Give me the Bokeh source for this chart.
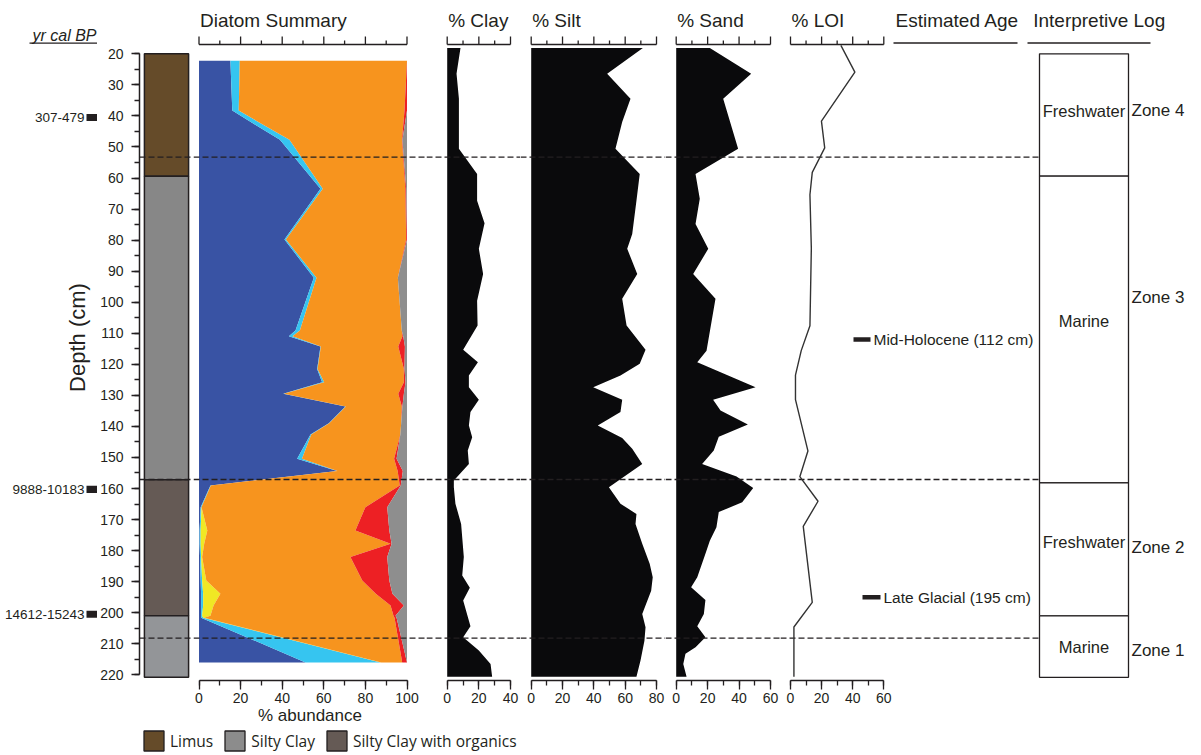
import math
from bokeh.plotting import figure
from bokeh.models import (Range1d, LinearAxis, SingleIntervalTicker, Span, Legend,
                          LegendItem, ColumnDataSource)
from bokeh.layouts import row, column
from bokeh.core.properties import value
from bokeh.embed import file_html
from bokeh.resources import INLINE

# ---------------------------------------------------------------- data
LITH_NAMES = ["Limus", "Silty Clay", "Silty Clay with organics", "Silty Clay"]
LITH_TOP = [20.0, 59.4, 157.2, 201.0]
LITH_BOTTOM = [59.4, 157.2, 201.0, 220.8]
LITH_COLORS = ["#654b29", "#878787", "#655a55", "#939598"]

LEGEND_NAMES = ["Limus", "Silty Clay", "Silty Clay with organics"]
LEGEND_COLORS = ["#654b29", "#8c8c8c", "#655a55"]

DATE_LABELS = ["307-479", "9888-10183", "14612-15243"]
DATE_DEPTH = [40.5, 160.3, 200.5]

ZONE_BOUNDARIES = [53.3, 157.1, 208.2]

DIA_DEPTH = [22.2, 38.3, 47.7, 63.5, 79.8, 92.1, 109.1, 111.0, 114.3, 121.5,
             125.8, 129.5, 133.6, 139.0, 142.6, 150.4, 154.4, 159.0, 166.0, 173.5,
             177.8, 182.1, 189.6, 193.9, 197.7, 201.0, 201.6, 216.0]
DIA_MARINE = [15.1, 16.0, 38.9, 58.4, 41.1, 55.2, 46.4, 43.2, 58.4, 56.8,
              59.2, 40.5, 70.4, 62.4, 53.6, 47.2, 66.4, 5.5, 0.8, 0.3,
              0.3, 0.5, 0.8, 1.0, 1.0, 1.0, 1.0, 51.2]
DIA_BRACKISH = [4.5, 3.1, 4.6, 1.1, 0.7, 1.3, 2.1, 1.8, 0.2, 0.2,
                1.0, 0.3, 0.2, 0.2, 0.4, 2.3, 0.2, 0.2, 0.4, 0.5,
                0.5, 0.5, 0.7, 1.0, 1.0, 0.5, 1.0, 36.1]
DIA_HALOPHILE = [0, 0, 0, 0, 0, 0, 0, 0, 0, 0,
                 0, 0, 0, 0, 0, 0, 0, 0, 0, 3.2,
                 1.7, 0.5, 2.0, 8.3, 5.0, 4.0, 0.5, 0.3]
DIA_FRESH = [80.4, 79.7, 54.1, 39.7, 57.8, 39.1, 49.0, 52.8, 37.2, 41.5,
             38.3, 55.0, 26.9, 34.6, 42.8, 44.3, 28.9, 90.8, 78.8, 71.2,
             89.6, 71.3, 75.0, 74.7, 85.1, 88.0, 91.5, 10.1]
DIA_HALOPHOBE = [0, 1.2, 0.2, 0.4, 0.4, 0, 0, 0.4, 3.2, 0.3,
                 0.8, 2.7, 0.3, 0, 0, 1.2, 2.5, 0.5, 10.5, 16.3,
                 0.5, 17.7, 13.0, 8.0, 6.4, 1.0, 1.0, 2.3]
DIA_UNKNOWN = [0, 0, 2.2, 0.4, 0, 4.4, 2.5, 1.8, 1.0, 1.2,
               0.7, 1.5, 2.2, 2.8, 3.2, 5.0, 2.0, 3.0, 9.5, 8.5,
               7.4, 9.5, 8.5, 7.0, 1.5, 5.5, 5.0, 0]
DIA_COLORS = ["#3953a4", "#36c5f0", "#f0e824", "#f7941e", "#ed2024", "#8e8e8e"]
DIA_TICKS = [0, 10, 20, 30, 40, 50, 60, 70, 80, 90, 100]

CLAY_DEPTH = [18.1, 26.4, 34.5, 50.6, 58.7, 67.3, 74.6, 82.8, 90.9, 99.5,
              107.5, 115.3, 119.3, 123.6, 127.4, 131.4, 135.4, 139.7, 143.5, 147.8,
              152.1, 157.4, 159.6, 164.9, 171.4, 182.1, 188.0, 192.0, 196.1, 204.4,
              207.9, 212.2, 216.5, 220.6]
CLAY = [8.4, 5.9, 7.4, 7.4, 18.9, 18.9, 23.6, 20.0, 22.7, 18.9,
        19.2, 10.1, 19.4, 13.7, 13.7, 20.0, 14.7, 13.7, 15.8, 13.0,
        13.7, 4.2, 4.2, 5.2, 8.8, 10.5, 9.5, 14.3, 10.1, 14.7,
        10.1, 20.0, 27.4, 28.4]
CLAY_TICKS = [0, 10, 20, 30, 40]

SILT_DEPTH = [18.1, 26.4, 34.5, 42.0, 50.6, 58.7, 67.3, 78.0, 82.8, 90.9,
              98.9, 107.5, 115.3, 119.8, 123.6, 127.4, 131.4, 135.4, 139.7, 143.7,
              147.2, 152.1, 159.6, 164.9, 168.2, 171.4, 177.8, 184.3, 188.6, 192.9,
              200.4, 204.7, 209.0, 215.4, 220.6]
SILT = [71.3, 48.5, 63.4, 58.1, 53.8, 69.3, 67.2, 64.5, 61.3, 67.7,
        58.1, 60.9, 73.0, 69.3, 57.0, 39.6, 58.1, 57.0, 42.5, 58.1,
        64.5, 70.9, 49.6, 57.0, 67.2, 66.6, 70.9, 75.7, 77.6, 76.6,
        70.9, 73.0, 72.3, 69.8, 67.2]
SILT_TICKS = [0, 10, 20, 30, 40, 50, 60, 70, 80]

SAND_DEPTH = [18.1, 26.4, 34.5, 50.6, 58.7, 66.7, 74.8, 82.8, 90.9, 98.9,
              115.6, 119.3, 127.4, 131.4, 134.9, 139.4, 143.3, 147.8, 152.1, 156.1,
              159.8, 164.4, 167.6, 172.5, 176.8, 181.0, 188.6, 191.8, 195.9, 200.4,
              204.4, 207.9, 211.1, 213.2, 216.5, 220.6]
SAND = [21.4, 47.7, 29.9, 39.4, 12.3, 15.0, 12.3, 20.4, 10.8, 25.0,
        19.3, 13.4, 50.5, 23.5, 28.2, 45.6, 27.1, 23.9, 16.5, 38.4,
        49.0, 42.0, 27.1, 25.6, 21.4, 18.6, 13.4, 9.5, 18.6, 17.6,
        13.4, 18.6, 12.3, 5.9, 4.5, 6.6]
SAND_TICKS = [0, 10, 20, 30, 40, 50, 60]

LOI_DEPTH = [17.3, 25.9, 41.7, 50.3, 58.2, 65.4, 82.6, 107.6, 115.6, 123.5,
             131.4, 147.9, 156.2, 164.1, 172.2, 196.7, 204.6, 220.6]
LOI = [32.4, 41.4, 19.9, 22.0, 14.0, 12.5, 13.4, 12.5, 6.9, 3.2,
       3.2, 11.2, 6.0, 17.7, 8.2, 14.0, 2.2, 2.2]
LOI_TICKS = [0, 10, 20, 30, 40, 50, 60]

AGE_LABELS = ["Mid-Holocene (112 cm)", "Late Glacial (195 cm)"]
AGE_DEPTH = [112, 195]

INTERP_TOP = [20.0, 59.4, 158.2, 201.0]
INTERP_BOTTOM = [59.4, 158.2, 201.0, 220.8]
INTERP_LABELS = ["Freshwater", "Marine", "Freshwater", "Marine"]
INTERP_LABEL_DEPTH = [38.3, 105.9, 177.3, 211.0]
ZONE_LABELS = ["Zone 4", "Zone 3", "Zone 2", "Zone 1"]
ZONE_LABEL_DEPTH = [38.3, 98.5, 178.9, 212.2]

# ---------------------------------------------------------------- layout helpers
INK = "#231f20"
FONT = "Liberation Sans"
PX = 3.105     # pixels per cm of depth
Y20 = 53.3     # page y of 20 cm
ROW_H = 727    # plots span page y 0..727, frames 0..680
BOTTOM = 47
HEADER_Y = 20  # page y of the header texts' middles


def dep(ypix):
    return 20 + (ypix - Y20) / PX


def xr(left_px, right_px, v0, px0, v1, px1):
    k = (px1 - px0) / (v1 - v0)
    return Range1d(v0 + (left_px - px0) / k, v0 + (right_px - px0) / k)


def base_fig(width, x_range, left=0):
    p = figure(width=width, height=ROW_H, x_range=x_range,
               y_range=Range1d(dep(680), dep(0)),
               output_backend="svg", toolbar_location=None,
               x_axis_location=None, y_axis_location=None, title=None,
               min_border_top=0, min_border_bottom=BOTTOM,
               min_border_left=left, min_border_right=0)
    p.outline_line_color = None
    p.background_fill_color = "white"
    p.border_fill_color = "white"
    p.grid.visible = False
    return p


def style_axis(ax, tick_out=9, minor_out=5, width=1.3, standoff=3):
    ax.axis_line_color = INK
    ax.axis_line_width = width
    ax.major_tick_line_color = INK
    ax.major_tick_line_width = width
    ax.minor_tick_line_color = INK
    ax.minor_tick_line_width = width
    ax.major_tick_in = 0
    ax.minor_tick_in = 0
    ax.major_tick_out = tick_out
    ax.minor_tick_out = minor_out
    ax.major_label_text_font = FONT
    ax.major_label_text_font_size = "14px"
    ax.major_label_text_color = INK
    ax.major_label_standoff = standoff


def bottom_axis(p, lo, hi, axis_label=None):
    ax = LinearAxis(ticker=SingleIntervalTicker(interval=20, num_minor_ticks=2), bounds=(lo, hi))
    style_axis(ax)
    if axis_label:
        ax.axis_label = axis_label
        ax.axis_label_text_font = FONT
        ax.axis_label_text_font_size = "17px"
        ax.axis_label_text_font_style = "normal"
        ax.axis_label_text_color = INK
        ax.axis_label_standoff = 0
    p.add_layout(ax, "below")


def top_scale(p, ticks, header):
    """Header text and top tick scale of a panel, drawn in the panel's own units."""
    y_line, y_major, y_minor = dep(44), dep(36), dep(40)
    majors, minors = ticks[::2], ticks[1::2]
    p.segment(x0=[ticks[0]], x1=[ticks[-1]], y0=[y_line], y1=[y_line],
              line_color=INK, line_width=1.3)
    p.segment(x0=majors, x1=majors, y0=[y_line] * len(majors), y1=[y_major] * len(majors),
              line_color=INK, line_width=1.3)
    p.segment(x0=minors, x1=minors, y0=[y_line] * len(minors), y1=[y_minor] * len(minors),
              line_color=INK, line_width=1.3)
    p.text(x=[ticks[0]], y=[dep(HEADER_Y)], text=[header], x_offset=1, text_align="left",
           text_baseline="middle", text_font=value(FONT), text_font_size="19px",
           text_color=INK)


def zone_spans(p):
    for d in ZONE_BOUNDARIES:
        p.add_layout(Span(location=d, dimension="width", line_color=INK,
                          line_width=1.3, line_dash="6 3"))


TXT = dict(text_font=value(FONT), text_color=INK)

# ---------------------------------------------------------------- F0: dates + depth label
p0 = base_fig(97, Range1d(0, 97))
p0.quad(left=[86] * 3, right=[97.5] * 3,
        top=[d - 1.15 for d in DATE_DEPTH], bottom=[d + 1.15 for d in DATE_DEPTH],
        fill_color=INK, line_color=None)
p0.text(x=[84] * 3, y=DATE_DEPTH, text=DATE_LABELS, text_align="right",
        text_baseline="middle", text_font_size="13.5px", **TXT)
p0.text(x=[77], y=[dep(337)], text=["Depth (cm)"], angle=math.pi / 2,
        text_align="center", text_baseline="middle", text_font_size="22px", **TXT)
p0.text(x=[32], y=[dep(34.5)], text=["yr cal BP"], text_align="left",
        text_baseline="middle", text_font_size="16px", text_font_style="italic", **TXT)
p0.segment(x0=[29], x1=[97], y0=[dep(42.7)], y1=[dep(42.7)], line_color=INK, line_width=1.3)

# ---------------------------------------------------------------- F1: lithology + depth axis
p1 = base_fig(96, Range1d(138, 193), left=41)
p1.quad(left=[143] * 4, right=[188] * 4, top=LITH_TOP, bottom=LITH_BOTTOM,
        fill_color=LITH_COLORS, line_color=INK, line_width=1.5)
dax = LinearAxis(ticker=SingleIntervalTicker(interval=10, num_minor_ticks=2), bounds=(20, 220))
style_axis(dax, tick_out=8, minor_out=5, width=1.5, standoff=8)
p1.add_layout(dax, "left")
zone_spans(p1)

# ---------------------------------------------------------------- F2: diatom summary
p2 = base_fig(233, xr(193, 426, 0, 198.5, 100, 406.5))
dsrc = ColumnDataSource(dict(depth=DIA_DEPTH, marine=DIA_MARINE, brackish=DIA_BRACKISH,
                             halophile=DIA_HALOPHILE, fresh=DIA_FRESH,
                             halophobe=DIA_HALOPHOBE, unknown=DIA_UNKNOWN))
p2.harea_stack(["marine", "brackish", "halophile", "fresh", "halophobe", "unknown"],
               y="depth", color=DIA_COLORS, source=dsrc)
top_scale(p2, DIA_TICKS, "Diatom Summary")
bottom_axis(p2, 0, 100, axis_label="% abundance")
zone_spans(p2)


# ---------------------------------------------------------------- F3-F5: grain size
def grain_panel(width, frame_l, frame_r, px0, vmax, pxmax, header, ticks, depth, vals):
    p = base_fig(width, xr(frame_l, frame_r, 0, px0, vmax, pxmax))
    p.harea(x1=[0] * len(vals), x2=vals, y=depth, fill_color="#0a0a0c")
    top_scale(p, ticks, header)
    bottom_axis(p, 0, vmax)
    zone_spans(p)
    return p


p3 = grain_panel(94, 426, 520, 446.7, 40, 510, "% Clay", CLAY_TICKS, CLAY_DEPTH, CLAY)
p4 = grain_panel(145, 520, 665, 530.7, 80, 656, "% Silt", SILT_TICKS, SILT_DEPTH, SILT)
p5 = grain_panel(115, 665, 780, 675.7, 60, 770, "% Sand", SAND_TICKS, SAND_DEPTH, SAND)

# ---------------------------------------------------------------- F6: LOI + age + interpretive log
p6 = base_fig(421, xr(780, 1201, 0, 790, 60, 883.3))
p6.extra_x_ranges = {"col": Range1d(780, 1201)}
COL = dict(x_range_name="col")

top_scale(p6, LOI_TICKS, "% LOI")
bottom_axis(p6, 0, 60)

p6.text(x=[895, 1032.7], y=[dep(HEADER_Y)] * 2, text=["Estimated Age", "Interpretive Log"],
        text_align="left", text_baseline="middle", text_font_size="19px", **TXT, **COL)
p6.segment(x0=[893, 1027], x1=[1017, 1150], y0=[dep(42.5)] * 2, y1=[dep(42.5)] * 2,
           line_color=INK, line_width=1.3, **COL)

p6.segment(x0=[780] * 3, x1=[1128] * 3, y0=ZONE_BOUNDARIES, y1=ZONE_BOUNDARIES,
           line_color=INK, line_width=1.3, line_dash="6 3", **COL)

p6.line(x=LOI, y=LOI_DEPTH, line_color="#333333", line_width=1.4)

p6.segment(x0=[853, 862], x1=[870, 880], y0=AGE_DEPTH, y1=AGE_DEPTH,
           line_color=INK, line_width=4.5, **COL)
p6.text(x=[873, 883], y=AGE_DEPTH, text=AGE_LABELS, text_align="left",
        text_baseline="middle", text_font_size="15.5px", **TXT, **COL)

p6.quad(left=[1039] * 4, right=[1128] * 4, top=INTERP_TOP, bottom=INTERP_BOTTOM,
        fill_color="white", line_color=INK, line_width=1.3, **COL)
p6.text(x=[1083.5] * 4, y=INTERP_LABEL_DEPTH, text=INTERP_LABELS, text_align="center",
        text_baseline="middle", text_font_size="16.5px", **TXT, **COL)
p6.text(x=[1131] * 4, y=ZONE_LABEL_DEPTH, text=ZONE_LABELS, text_align="left",
        text_baseline="middle", text_font_size="17px", **TXT, **COL)

# ---------------------------------------------------------------- legend strip
lf = figure(width=1201, height=28, x_range=Range1d(0, 1), y_range=Range1d(0, 1),
            output_backend="svg", toolbar_location=None, x_axis_location=None,
            y_axis_location=None, title=None, min_border_top=0, min_border_bottom=0,
            min_border_left=0, min_border_right=0)
lf.outline_line_color = None
lf.grid.visible = False
items = []
for name, col in zip(LEGEND_NAMES, LEGEND_COLORS):
    r = lf.quad(left=[-10], right=[-9], top=[-9], bottom=[-10], fill_color=col,
                line_color=INK, line_width=1.3)
    items.append(LegendItem(label=name, renderers=[r]))
leg = Legend(items=items, orientation="horizontal", location=(141, 2),
             glyph_width=25, glyph_height=25, label_height=25, label_standoff=4,
             spacing=9, padding=0, margin=0, border_line_color=None,
             background_fill_alpha=0, label_text_font="Open Sans",
             label_text_font_size="15.5px", label_text_color=INK)
lf.add_layout(leg)

layout = column(row(p0, p1, p2, p3, p4, p5, p6), lf)
open("out.html", "w").write(file_html(layout, INLINE))
